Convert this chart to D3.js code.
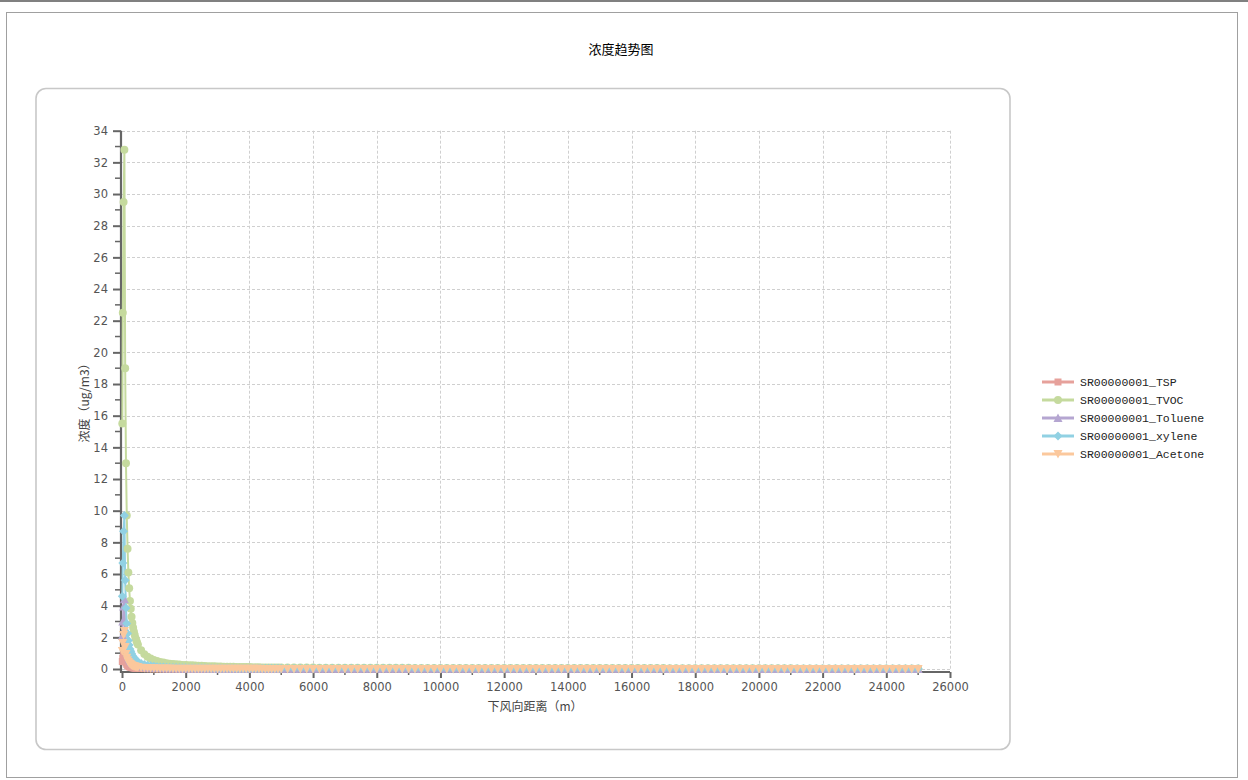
<!DOCTYPE html>
<html>
<head>
<meta charset="utf-8">
<script src="https://cdn.jsdelivr.net/npm/d3@7"></script>
<style>
  html, body { margin: 0; padding: 0; background: #fff; }
  svg { display: block; }
</style>
</head>
<body>
<svg id="chart"></svg>
<script>
// downwind distance (m)
const distances = [
  10, 25, 50, 75, 100, 125, 150, 175, 200, 225, 250, 275, 300, 325, 350, 375, 400, 425, 450, 475, 500,
  600, 700, 800, 900, 1000, 1100, 1200, 1300, 1400, 1500, 1600, 1700, 1800, 1900, 2000, 2100, 2200, 2300, 2400, 2500,
  2600, 2700, 2800, 2900, 3000, 3100, 3200, 3300, 3400, 3500, 3600, 3700, 3800, 3900, 4000, 4100, 4200, 4300, 4400, 4500,
  4600, 4700, 4800, 4900, 5000,
  5200, 5400, 5600, 5800, 6000, 6200, 6400, 6600, 6800, 7000, 7200, 7400, 7600, 7800, 8000, 8200, 8400, 8600, 8800, 9000,
  9200, 9400, 9600, 9800, 10000, 10200, 10400, 10600, 10800, 11000, 11200, 11400, 11600, 11800, 12000, 12200, 12400, 12600, 12800, 13000,
  13200, 13400, 13600, 13800, 14000, 14200, 14400, 14600, 14800, 15000, 15200, 15400, 15600, 15800, 16000, 16200, 16400, 16600, 16800, 17000,
  17200, 17400, 17600, 17800, 18000, 18200, 18400, 18600, 18800, 19000, 19200, 19400, 19600, 19800, 20000, 20200, 20400, 20600, 20800, 21000,
  21200, 21400, 21600, 21800, 22000, 22200, 22400, 22600, 22800, 23000, 23200, 23400, 23600, 23800, 24000, 24200, 24400, 24600, 24800, 25000
];

// concentrations (ug/m3)
const tsp = [
  0.47, 0.68, 0.89, 0.98, 0.57, 0.39, 0.29, 0.23, 0.18, 0.15, 0.13, 0.11, 0.1, 0.087, 0.078, 0.07, 0.065, 0.059, 0.054, 0.05, 0.046,
  0.035, 0.028, 0.023, 0.02, 0.017, 0.015, 0.014, 0.012, 0.011, 0.01, 0.0096, 0.009, 0.0084, 0.0078, 0.0075, 0.0072, 0.0069, 0.0066, 0.0063, 0.006,
  0.0057, 0.0054, 0.0054, 0.0051, 0.0048, 0.0048, 0.0045, 0.0045, 0.0042, 0.0042, 0.0039, 0.0039, 0.0036, 0.0036, 0.0036, 0.0033, 0.0033, 0.0033, 0.003, 0.003,
  0.003, 0.003, 0.0027, 0.0027, 0.0027,
  0.0027, 0.0027, 0.0027, 0.0027, 0.0027, 0.0024, 0.0024, 0.0024, 0.0024, 0.0024, 0.0024, 0.0024, 0.0024, 0.0024, 0.0024, 0.0024, 0.0024, 0.0024, 0.0024, 0.0024,
  0.0021, 0.0021, 0.0021, 0.0021, 0.0021, 0.0021, 0.0021, 0.0021, 0.0021, 0.0021, 0.0021, 0.0021, 0.0021, 0.0021, 0.0021, 0.0021, 0.0021, 0.0021, 0.0021, 0.0021,
  0.0018, 0.0018, 0.0018, 0.0018, 0.0018, 0.0018, 0.0018, 0.0018, 0.0018, 0.0018, 0.0018, 0.0018, 0.0018, 0.0018, 0.0018, 0.0018, 0.0018, 0.0018, 0.0018, 0.0018,
  0.0015, 0.0015, 0.0015, 0.0015, 0.0015, 0.0015, 0.0015, 0.0015, 0.0015, 0.0015, 0.0015, 0.0015, 0.0015, 0.0015, 0.0015, 0.0015, 0.0015, 0.0015, 0.0015, 0.0015,
  0.0012, 0.0012, 0.0012, 0.0012, 0.0012, 0.0012, 0.0012, 0.0012, 0.0012, 0.0012, 0.0012, 0.0012, 0.0012, 0.0012, 0.0012, 0.0012, 0.0012, 0.0012, 0.0012, 0.0012
];

const tvoc = [
  15.5, 22.5, 29.5, 32.8, 19.0, 13.0, 9.7, 7.6, 6.1, 5.1, 4.3, 3.8, 3.3, 2.9, 2.6, 2.35, 2.15, 1.95, 1.8, 1.66, 1.54,
  1.18, 0.94, 0.78, 0.66, 0.57, 0.5, 0.45, 0.41, 0.37, 0.34, 0.32, 0.3, 0.28, 0.26, 0.25, 0.24, 0.23, 0.22, 0.21, 0.2,
  0.19, 0.18, 0.18, 0.17, 0.16, 0.16, 0.15, 0.15, 0.14, 0.14, 0.13, 0.13, 0.12, 0.12, 0.12, 0.11, 0.11, 0.11, 0.1, 0.1,
  0.1, 0.1, 0.09, 0.09, 0.09,
  0.09, 0.09, 0.09, 0.09, 0.09, 0.08, 0.08, 0.08, 0.08, 0.08, 0.08, 0.08, 0.08, 0.08, 0.08, 0.08, 0.08, 0.08, 0.08, 0.08,
  0.07, 0.07, 0.07, 0.07, 0.07, 0.07, 0.07, 0.07, 0.07, 0.07, 0.07, 0.07, 0.07, 0.07, 0.07, 0.07, 0.07, 0.07, 0.07, 0.07,
  0.06, 0.06, 0.06, 0.06, 0.06, 0.06, 0.06, 0.06, 0.06, 0.06, 0.06, 0.06, 0.06, 0.06, 0.06, 0.06, 0.06, 0.06, 0.06, 0.06,
  0.05, 0.05, 0.05, 0.05, 0.05, 0.05, 0.05, 0.05, 0.05, 0.05, 0.05, 0.05, 0.05, 0.05, 0.05, 0.05, 0.05, 0.05, 0.05, 0.05,
  0.04, 0.04, 0.04, 0.04, 0.04, 0.04, 0.04, 0.04, 0.04, 0.04, 0.04, 0.04, 0.04, 0.04, 0.04, 0.04, 0.04, 0.04, 0.04, 0.04
];

const toluene = [
  2.1, 3.0, 3.95, 4.4, 2.55, 1.74, 1.3, 1.02, 0.82, 0.68, 0.58, 0.51, 0.44, 0.39, 0.35, 0.31, 0.29, 0.26, 0.24, 0.22, 0.21,
  0.16, 0.13, 0.1, 0.088, 0.076, 0.067, 0.06, 0.055, 0.05, 0.046, 0.043, 0.04, 0.038, 0.035, 0.034, 0.032, 0.031, 0.029, 0.028, 0.027,
  0.025, 0.024, 0.024, 0.023, 0.021, 0.021, 0.02, 0.02, 0.019, 0.019, 0.017, 0.017, 0.016, 0.016, 0.016, 0.015, 0.015, 0.015, 0.013, 0.013,
  0.013, 0.013, 0.012, 0.012, 0.012,
  0.012, 0.012, 0.012, 0.012, 0.012, 0.011, 0.011, 0.011, 0.011, 0.011, 0.011, 0.011, 0.011, 0.011, 0.011, 0.011, 0.011, 0.011, 0.011, 0.011,
  0.009, 0.009, 0.009, 0.009, 0.009, 0.009, 0.009, 0.009, 0.009, 0.009, 0.009, 0.009, 0.009, 0.009, 0.009, 0.009, 0.009, 0.009, 0.009, 0.009,
  0.008, 0.008, 0.008, 0.008, 0.008, 0.008, 0.008, 0.008, 0.008, 0.008, 0.008, 0.008, 0.008, 0.008, 0.008, 0.008, 0.008, 0.008, 0.008, 0.008,
  0.007, 0.007, 0.007, 0.007, 0.007, 0.007, 0.007, 0.007, 0.007, 0.007, 0.007, 0.007, 0.007, 0.007, 0.007, 0.007, 0.007, 0.007, 0.007, 0.007,
  0.005, 0.005, 0.005, 0.005, 0.005, 0.005, 0.005, 0.005, 0.005, 0.005, 0.005, 0.005, 0.005, 0.005, 0.005, 0.005, 0.005, 0.005, 0.005, 0.005
];

const xylene = [
  4.6, 6.7, 8.7, 9.7, 5.6, 3.85, 2.87, 2.25, 1.8, 1.51, 1.27, 1.12, 0.98, 0.86, 0.77, 0.7, 0.64, 0.58, 0.53, 0.49, 0.46,
  0.35, 0.28, 0.23, 0.2, 0.17, 0.15, 0.13, 0.12, 0.11, 0.1, 0.095, 0.089, 0.083, 0.077, 0.074, 0.071, 0.068, 0.065, 0.062, 0.059,
  0.056, 0.053, 0.053, 0.05, 0.047, 0.047, 0.044, 0.044, 0.041, 0.041, 0.038, 0.038, 0.036, 0.036, 0.036, 0.033, 0.033, 0.033, 0.03, 0.03,
  0.03, 0.03, 0.027, 0.027, 0.027,
  0.027, 0.027, 0.027, 0.027, 0.027, 0.024, 0.024, 0.024, 0.024, 0.024, 0.024, 0.024, 0.024, 0.024, 0.024, 0.024, 0.024, 0.024, 0.024, 0.024,
  0.021, 0.021, 0.021, 0.021, 0.021, 0.021, 0.021, 0.021, 0.021, 0.021, 0.021, 0.021, 0.021, 0.021, 0.021, 0.021, 0.021, 0.021, 0.021, 0.021,
  0.018, 0.018, 0.018, 0.018, 0.018, 0.018, 0.018, 0.018, 0.018, 0.018, 0.018, 0.018, 0.018, 0.018, 0.018, 0.018, 0.018, 0.018, 0.018, 0.018,
  0.015, 0.015, 0.015, 0.015, 0.015, 0.015, 0.015, 0.015, 0.015, 0.015, 0.015, 0.015, 0.015, 0.015, 0.015, 0.015, 0.015, 0.015, 0.015, 0.015,
  0.012, 0.012, 0.012, 0.012, 0.012, 0.012, 0.012, 0.012, 0.012, 0.012, 0.012, 0.012, 0.012, 0.012, 0.012, 0.012, 0.012, 0.012, 0.012, 0.012
];

const acetone = [
  1.13, 1.64, 2.15, 2.4, 1.39, 0.95, 0.71, 0.55, 0.45, 0.37, 0.31, 0.28, 0.24, 0.21, 0.19, 0.17, 0.16, 0.14, 0.13, 0.12, 0.11,
  0.086, 0.069, 0.057, 0.048, 0.042, 0.037, 0.033, 0.03, 0.027, 0.025, 0.023, 0.022, 0.02, 0.019, 0.018, 0.017, 0.017, 0.016, 0.015, 0.015,
  0.014, 0.013, 0.013, 0.012, 0.012, 0.012, 0.011, 0.011, 0.01, 0.01, 0.01, 0.01, 0.009, 0.009, 0.009, 0.008, 0.008, 0.008, 0.007, 0.007,
  0.007, 0.007, 0.007, 0.007, 0.007,
  0.007, 0.007, 0.007, 0.007, 0.007, 0.006, 0.006, 0.006, 0.006, 0.006, 0.006, 0.006, 0.006, 0.006, 0.006, 0.006, 0.006, 0.006, 0.006, 0.006,
  0.005, 0.005, 0.005, 0.005, 0.005, 0.005, 0.005, 0.005, 0.005, 0.005, 0.005, 0.005, 0.005, 0.005, 0.005, 0.005, 0.005, 0.005, 0.005, 0.005,
  0.004, 0.004, 0.004, 0.004, 0.004, 0.004, 0.004, 0.004, 0.004, 0.004, 0.004, 0.004, 0.004, 0.004, 0.004, 0.004, 0.004, 0.004, 0.004, 0.004,
  0.004, 0.004, 0.004, 0.004, 0.004, 0.004, 0.004, 0.004, 0.004, 0.004, 0.004, 0.004, 0.004, 0.004, 0.004, 0.004, 0.004, 0.004, 0.004, 0.004,
  0.003, 0.003, 0.003, 0.003, 0.003, 0.003, 0.003, 0.003, 0.003, 0.003, 0.003, 0.003, 0.003, 0.003, 0.003, 0.003, 0.003, 0.003, 0.003, 0.003
];

const seriesNames = ["SR00000001_TSP", "SR00000001_TVOC", "SR00000001_Toluene", "SR00000001_xylene", "SR00000001_Acetone"];
const seriesValues = [tsp, tvoc, toluene, xylene, acetone];
const seriesColors = ["#e6a19b", "#c5da9e", "#b5a6d1", "#91d1e3", "#fbc89d"];
const seriesShapes = ["square", "circle", "triangleUp", "diamond", "triangleDown"];

const xTicks = [0, 2000, 4000, 6000, 8000, 10000, 12000, 14000, 16000, 18000, 20000, 22000, 24000, 26000];
const yTicks = [0, 2, 4, 6, 8, 10, 12, 14, 16, 18, 20, 22, 24, 26, 28, 30, 32, 34];

const title = "浓度趋势图";
const xTitle = "下风向距离（m）";
const yTitle = "浓度（ug/m3）";

const width = 1248, height = 780;
const plot = { left: 122, right: 950, top: 130.7, bottom: 669 };

const svg = d3.select("#chart").attr("width", width).attr("height", height);

// frame
svg.append("rect").attr("x", 0).attr("y", 0).attr("width", width).attr("height", 2).attr("fill", "#808080");
svg.append("rect").attr("x", 6.5).attr("y", 12.5).attr("width", 1231).attr("height", 765)
  .attr("fill", "#fff").attr("stroke", "#a0a0a0").attr("stroke-width", 1);
svg.append("rect").attr("x", 36).attr("y", 88.5).attr("width", 974).attr("height", 661).attr("rx", 10)
  .attr("fill", "#fff").attr("stroke", "#c8c8c8").attr("stroke-width", 1.6);

svg.append("text").attr("x", 621).attr("y", 54).attr("text-anchor", "middle")
  .attr("font-family", "'Noto Sans CJK SC', sans-serif").attr("font-size", 13).attr("fill", "#000")
  .text(title);

const x = d3.scaleLinear().domain([0, 26000]).range([plot.left, plot.right]);
const y = d3.scaleLinear().domain([0, 34]).range([plot.bottom, plot.top]);

// grid
const grid = svg.append("g").attr("stroke", "#cfcfcf").attr("stroke-width", 1).attr("stroke-dasharray", "3,2");
grid.selectAll(".gy").data(yTicks).enter().append("line")
  .attr("x1", plot.left).attr("x2", plot.right)
  .attr("y1", d => Math.round(y(d)) + 0.5).attr("y2", d => Math.round(y(d)) + 0.5);
grid.selectAll(".gx").data(xTicks.slice(1)).enter().append("line")
  .attr("y1", plot.top).attr("y2", plot.bottom)
  .attr("x1", d => Math.round(x(d)) + 0.5).attr("x2", d => Math.round(x(d)) + 0.5);

// axes
const tickFont = "'DejaVu Sans', Verdana, sans-serif";
const xAxisY = plot.bottom + 3;
const xAxis = svg.append("g").attr("transform", `translate(0,${xAxisY})`)
  .call(d3.axisBottom(x).tickValues(xTicks).tickSize(6).tickPadding(5).tickFormat(d3.format("d")));
xAxis.select(".domain").attr("stroke", "#666").attr("stroke-width", 2.2).attr("d", `M${plot.left - 2},0H${plot.right}`);
xAxis.selectAll(".tick line").attr("stroke", "#666").attr("stroke-width", 2);
xAxis.selectAll(".tick text").attr("font-family", tickFont).attr("font-size", 11.5).attr("fill", "#555");
const xMinor = d3.range(1000, 26000, 2000);
svg.append("g").selectAll("line").data(xMinor).enter().append("line")
  .attr("x1", d => x(d)).attr("x2", d => x(d)).attr("y1", xAxisY).attr("y2", xAxisY + 3)
  .attr("stroke", "#666").attr("stroke-width", 1.5);

const yAxisX = plot.left - 1;
const yAxis = svg.append("g").attr("transform", `translate(${yAxisX},0)`)
  .call(d3.axisLeft(y).tickValues(yTicks).tickSize(8).tickPadding(5));
yAxis.select(".domain").attr("stroke", "#666").attr("stroke-width", 2.2).attr("d", `M0,${plot.top}V${xAxisY + 1}`);
yAxis.selectAll(".tick line").attr("stroke", "#666").attr("stroke-width", 2);
yAxis.selectAll(".tick text").attr("font-family", tickFont).attr("font-size", 11.5).attr("fill", "#555");
const yMinor = d3.range(1, 34, 2);
svg.append("g").selectAll("line").data(yMinor).enter().append("line")
  .attr("x1", yAxisX - 6).attr("x2", yAxisX).attr("y1", d => y(d)).attr("y2", d => y(d))
  .attr("stroke", "#666").attr("stroke-width", 1.5);

svg.append("text").attr("x", 535).attr("y", 711).attr("text-anchor", "middle")
  .attr("font-family", "'Noto Sans CJK SC', sans-serif").attr("font-size", 12).attr("fill", "#444")
  .text(xTitle);
svg.append("text").attr("transform", "translate(89,400) rotate(-90)").attr("text-anchor", "middle")
  .attr("font-family", "'Noto Sans CJK SC', sans-serif").attr("font-size", 12).attr("fill", "#444")
  .text(yTitle);

// markers
const shapePath = {
  square: "M-3.5,-3.5H3.5V3.5H-3.5Z",
  circle: d3.symbol(d3.symbolCircle, 50)(),
  triangleUp: "M0,-4.5L4.5,4L-4.5,4Z",
  diamond: "M0,-4.5L4.5,0L0,4.5L-4.5,0Z",
  triangleDown: "M-4.5,-4L4.5,-4L0,4.5Z"
};

const line = d3.line().x(d => x(d[0])).y(d => y(d[1]));
const data = seriesValues.map(vals => distances.map((d, i) => [d, vals[i]]));

const lines = svg.append("g");
data.forEach((pts, s) => {
  lines.append("path").datum(pts).attr("d", line)
    .attr("fill", "none").attr("stroke", seriesColors[s]).attr("stroke-width", 2).attr("stroke-linejoin", "round");
});
const marks = svg.append("g");
data.forEach((pts, s) => {
  marks.append("g").selectAll("path").data(pts).enter().append("path")
    .attr("d", shapePath[seriesShapes[s]])
    .attr("transform", d => `translate(${x(d[0])},${y(d[1])})`)
    .attr("fill", seriesColors[s]);
});

// legend
const legend = svg.append("g").attr("transform", "translate(1042,382)");
seriesNames.forEach((name, s) => {
  const g = legend.append("g").attr("transform", `translate(0,${s * 18})`);
  g.append("line").attr("x1", 0).attr("x2", 32).attr("y1", 0).attr("y2", 0)
    .attr("stroke", seriesColors[s]).attr("stroke-width", 3);
  g.append("path").attr("d", shapePath[seriesShapes[s]]).attr("transform", "translate(16,0)")
    .attr("fill", seriesColors[s]);
  g.append("text").attr("x", 38).attr("y", 4).attr("font-family", "'Liberation Mono', monospace")
    .attr("font-size", 11.5).attr("fill", "#222").text(name);
});
</script>
</body>
</html>
